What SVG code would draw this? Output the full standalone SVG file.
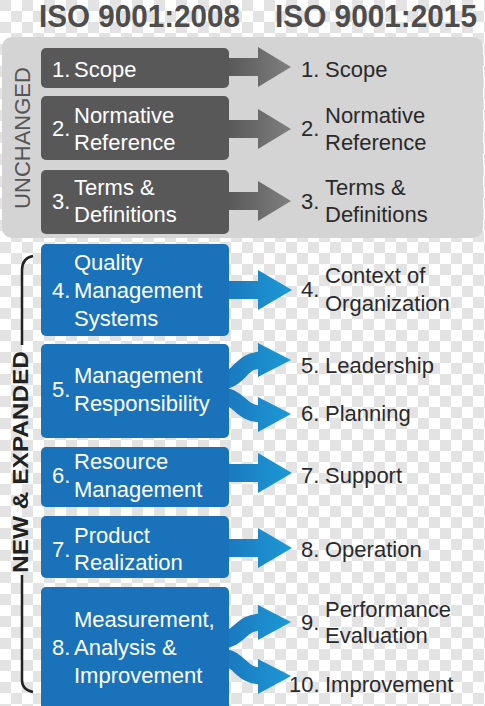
<svg xmlns="http://www.w3.org/2000/svg" width="485" height="706" viewBox="0 0 485 706">
<defs>
<pattern id="chk" width="22" height="22" patternUnits="userSpaceOnUse">
<rect width="22" height="22" fill="#ffffff"/>
<rect width="11" height="11" fill="#e3e3e3"/>
<rect x="11" y="11" width="11" height="11" fill="#e3e3e3"/>
</pattern>
<linearGradient id="gGrey" gradientUnits="userSpaceOnUse" x1="225" y1="0" x2="292" y2="0">
<stop offset="0" stop-color="#575757"/>
<stop offset="1" stop-color="#808080"/>
</linearGradient>
<linearGradient id="gBlue" gradientUnits="userSpaceOnUse" x1="215" y1="0" x2="292" y2="0">
<stop offset="0" stop-color="#1a72bb"/>
<stop offset="1" stop-color="#1d9ad6"/>
</linearGradient>
<style>
.t{font-family:"Liberation Sans",Arial,sans-serif;font-size:22px}
.w{fill:#ffffff}
.k{fill:#2a2a2a}
.ttl{font-family:"Liberation Sans",Arial,sans-serif;font-size:31px;font-weight:bold;fill:#4d4d4d}
.dk{fill:#585858}
.bl{fill:#1a72bb}
.ga{fill:url(#gGrey)}
.ba{fill:url(#gBlue)}
.bs{fill:none;stroke:url(#gBlue);stroke-width:17}
</style>
</defs>
<rect width="485" height="706" fill="url(#chk)"/>
<g id="titles">
<text class="ttl" x="39" y="27" textLength="201" lengthAdjust="spacingAndGlyphs">ISO 9001:2008</text>
<text class="ttl" x="275" y="27" textLength="202" lengthAdjust="spacingAndGlyphs">ISO 9001:2015</text>
</g>
<g id="panel-unchanged">
<rect x="2" y="37" width="481" height="201" rx="10" fill="#d4d4d4"/>
<text class="t" fill="#555555" transform="translate(30,138) rotate(-90)" text-anchor="middle">UNCHANGED</text>
</g>
<g id="label-new">
<text class="t" font-weight="bold" fill="#222222" transform="translate(28,462) rotate(-90)" text-anchor="middle" textLength="222" lengthAdjust="spacingAndGlyphs">NEW &amp; EXPANDED</text>
<path d="M33,256 Q22,258 22,270 L22,345 M22,575 L22,680 Q22,690 33,692" fill="none" stroke="#222222" stroke-width="2.5"/>
</g>
<g id="connectors">
<rect class="ga" x="222" y="58" width="38" height="18"/>
<polygon class="ga" points="258,47 291,67 258,87"/>
<rect class="ga" x="222" y="120" width="38" height="18"/>
<polygon class="ga" points="258,109 291,129 258,149"/>
<rect class="ga" x="222" y="192" width="38" height="18"/>
<polygon class="ga" points="258,181 291,201 258,221"/>
<rect class="ba" x="205" y="281" width="55" height="18"/>
<polygon class="ba" points="258,270 292,290 258,310"/>
<path class="bs" d="M215,382 C242,382 238,360 262,360"/>
<polygon class="ba" points="258,343 291,360 258,377"/>
<path class="bs" d="M215,395 C242,395 238,414 262,414"/>
<polygon class="ba" points="258,397 291,414 258,432"/>
<rect class="ba" x="205" y="464" width="55" height="18"/>
<polygon class="ba" points="258,453 292,473 258,493"/>
<rect class="ba" x="205" y="539" width="55" height="18"/>
<polygon class="ba" points="258,528 292,548 258,568"/>
<path class="bs" d="M215,641 C242,641 238,622 262,622"/>
<polygon class="ba" points="258,605 291,622 258,640"/>
<path class="bs" d="M215,656 C242,656 238,676 262,676"/>
<polygon class="ba" points="258,659 291,676 258,694"/>
</g>
<g id="old1"><rect class="dk" x="41" y="48" width="188" height="40" rx="5"/><text class="t w" x="52" y="77">1.</text><text class="t w" x="74" y="77">Scope</text></g>
<g id="old2"><rect class="dk" x="41" y="96" width="188" height="64" rx="5"/><text class="t w" x="52" y="136">2.</text><text class="t w" x="74" y="123">Normative</text><text class="t w" x="74" y="150">Reference</text></g>
<g id="old3"><rect class="dk" x="41" y="170" width="188" height="64" rx="5"/><text class="t w" x="52" y="209">3.</text><text class="t w" x="74" y="195">Terms &amp;</text><text class="t w" x="74" y="222">Definitions</text></g>
<g id="old4"><rect class="bl" x="41" y="244" width="188" height="92" rx="5"/><text class="t w" x="52" y="298">4.</text><text class="t w" x="74" y="270">Quality</text><text class="t w" x="74" y="298">Management</text><text class="t w" x="74" y="326">Systems</text></g>
<g id="old5"><rect class="bl" x="41" y="344" width="188" height="94" rx="5"/><text class="t w" x="52" y="397">5.</text><text class="t w" x="74" y="383">Management</text><text class="t w" x="74" y="411">Responsibility</text></g>
<g id="old6"><rect class="bl" x="41" y="447" width="188" height="60" rx="5"/><text class="t w" x="52" y="483">6.</text><text class="t w" x="74" y="469">Resource</text><text class="t w" x="74" y="497">Management</text></g>
<g id="old7"><rect class="bl" x="41" y="516" width="188" height="62" rx="5"/><text class="t w" x="52" y="557">7.</text><text class="t w" x="74" y="543">Product</text><text class="t w" x="74" y="570">Realization</text></g>
<g id="old8"><rect class="bl" x="41" y="587" width="188" height="125" rx="5"/><text class="t w" x="52" y="655">8.</text><text class="t w" x="74" y="627">Measurement,</text><text class="t w" x="74" y="655">Analysis &amp;</text><text class="t w" x="74" y="683">Improvement</text></g>
<g id="new1"><text class="t k" x="301" y="77">1.</text><text class="t k" x="325" y="77">Scope</text></g>
<g id="new2"><text class="t k" x="301" y="136">2.</text><text class="t k" x="325" y="123">Normative</text><text class="t k" x="325" y="150">Reference</text></g>
<g id="new3"><text class="t k" x="301" y="209">3.</text><text class="t k" x="325" y="195">Terms &amp;</text><text class="t k" x="325" y="222">Definitions</text></g>
<g id="new4"><text class="t k" x="301" y="297">4.</text><text class="t k" x="325" y="283">Context of</text><text class="t k" x="325" y="311">Organization</text></g>
<g id="new5"><text class="t k" x="301" y="373">5.</text><text class="t k" x="325" y="373">Leadership</text></g>
<g id="new6"><text class="t k" x="301" y="421">6.</text><text class="t k" x="325" y="421">Planning</text></g>
<g id="new7"><text class="t k" x="301" y="483">7.</text><text class="t k" x="325" y="483">Support</text></g>
<g id="new8"><text class="t k" x="301" y="557">8.</text><text class="t k" x="325" y="557">Operation</text></g>
<g id="new9"><text class="t k" x="301" y="630">9.</text><text class="t k" x="325" y="617">Performance</text><text class="t k" x="325" y="643">Evaluation</text></g>
<g id="new10"><text class="t k" x="289" y="692">10.</text><text class="t k" x="325" y="692">Improvement</text></g>
</svg>
